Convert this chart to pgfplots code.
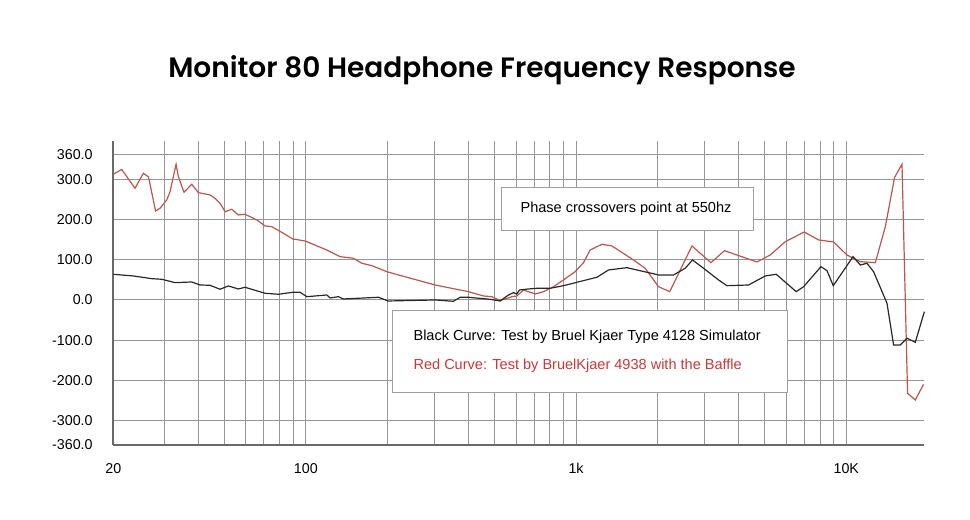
\documentclass[border=0pt]{standalone}
\usepackage{pgfplots}
\pgfplotsset{compat=1.18}
\usepackage{fontspec}
\setmainfont{Liberation Sans}
\newfontfamily\titlefont{Poppins}[BoldFont={Poppins SemiBold}]
\definecolor{gridgray}{RGB}{150,150,150}
\definecolor{axisgray}{RGB}{105,105,105}
\definecolor{redcurve}{RGB}{190,85,75}
\definecolor{blackcurve}{RGB}{40,40,40}
\definecolor{redtext}{RGB}{205,55,55}
\definecolor{boxgray}{RGB}{160,160,160}
\begin{document}
\begin{tikzpicture}
\useasboundingbox (0,0) rectangle (727.5pt,390pt);
\begin{axis}[
  at={(84.98pt,56.25pt)}, anchor=south west, scale only axis,
  width=608.3pt, height=228.1pt,
  xmode=log, xmin=19.4, xmax=19460, ymin=-360, ymax=395,
  axis x line*=bottom, axis y line*=left,
  axis line style={axisgray, line width=1.6pt, -},
  xtick={19.4,100,1000,10000}, xticklabels={20,100,1k,10K},
  minor xtick={30,40,50,60,70,80,90,200,300,400,500,600,700,800,900,2000,3000,4000,5000,6000,7000,8000,9000},
  ytick={-360,-300,-200,-100,0,100,200,300,360},
  yticklabels={-360.0,-300.0,-200.0,-100.0,0.0,100.0,200.0,300.0,360.0},
  major tick length=0pt, minor tick length=0pt,
  xmajorgrids, xminorgrids, ymajorgrids,
  grid style={gridgray, line width=0.75pt},
  minor grid style={gridgray, line width=0.75pt},
  tick label style={font=\fontsize{10.7}{12}\selectfont, text=black},
  yticklabel style={xshift=-12pt},
  xticklabel style={yshift=-10pt},
  clip=false,
]
\addplot[redcurve, line width=0.9pt] coordinates {
(19.4,312) (20.84,324) (23.34,277.3) (25.05,314.6) (26.18,305.4) (27.80,221) (28.88,227.7) (30.58,248.3) (31.45,268.9) (33.11,336.9) (33.77,306.1) (35.43,267.4) (37.84,287.3) (40.03,266.4) (44.22,260.7) (46.15,252.5) (48.16,240.1) (50.26,219.2) (53.21,225.2) (56.29,211) (59.60,212.8) (65.87,198.6) (70.68,183.7) (74.84,182) (82.62,165.6) (89.51,151.5) (99.4,146.5) (119.6,124.1) (134.0,107.5) (150.1,103.5) (161.2,91.1) (175.5,85.2) (199.4,70.3) (220.2,62.1) (301,37.2) (400,20.6) (454.4,9.9) (488.1,8.2) (523.9,-1.7) (578.8,8.2) (603.9,9.9) (639.1,24.8) (666.8,20.6) (706.4,14.9) (757.7,20.6) (825.3,33) (898.5,49.7) (992.9,70.3) (1066,92.6) (1128,124.1) (1247,138.3) (1358,134.1) (1632,99.3) (1803,78.7) (2019,33) (2222,20.6) (2685,134.1) (3156,92.6) (3544,122.4) (4672,94.3) (5233,111.7) (5946,144.7) (6994,168.8) (7898,149) (8975,144) (10060,111.7) (11270,95.1) (12810,92.6) (13950,182) (15100,304.6) (16080,336.9) (16860,-231.6) (18010,-248.3) (19320,-209.3)
};
\addplot[blackcurve, line width=0.9pt] coordinates {
(19.4,63.8) (23.01,59.6) (26.91,52.9) (29.31,51.4) (32.82,43) (37.84,44.7) (40.62,37.2) (44.22,36.5) (48.16,26.6) (51.69,34.8) (56.29,27.3) (59.60,31.5) (70.68,16.6) (79.19,14.2) (89.51,19.1) (95.26,19.1) (100.9,8.2) (119.6,12.4) (123,5) (132,8.2) (137.8,2.5) (185.7,6.7) (201.7,-2.5) (301,0) (351.9,-3.2) (372.6,6.7) (400,6.7) (481.1,1.7) (523.9,-2.5) (562.3,12.4) (586.8,18.1) (603.9,14.9) (617.5,24.8) (666.8,27.3) (716,29) (802.2,29) (898.5,35.5) (1007,43.9) (1195,56.4) (1319,74.5) (1543,80.2) (1830,68.8) (2019,62.1) (2295,62.1) (2535,78.7) (2698,99.3) (2964,78.7) (3368,49.7) (3618,35.5) (4349,37.2) (5014,59.6) (5507,63.8) (6529,20.6) (6950,33) (8062,82.7) (8484,72.7) (8953,35.5) (10590,107.5) (11270,86.9) (11930,91.1) (12620,70.3) (14150,-8.2) (14970,-111.7) (15850,-111.7) (16780,-95.1) (18010,-105) (19460,-29)
};
\end{axis}
\begin{scope}[yshift=390pt, x=0.75pt, y=-0.75pt]
\node[font=\titlefont\bfseries\fontsize{21}{25}\selectfont] at (482,70) {Monitor 80 Headphone Frequency Response};
\draw[boxgray, fill=white, line width=0.6pt] (501.7,187) rectangle (753,230);
\node[font=\fontsize{10.9}{12}\selectfont] at (626,208.5) {Phase crossovers point at 550hz};
\draw[boxgray, fill=white, line width=0.6pt] (392.7,310.7) rectangle (787.3,392.3);
\node[font=\fontsize{10.9}{12}\selectfont, anchor=west, inner sep=0pt] at (413.3,336.7) {Black Curve: Test by Bruel Kjaer Type 4128 Simulator};
\node[font=\fontsize{10.9}{12}\selectfont, anchor=west, inner sep=0pt, text=redtext] at (413.3,366) {Red Curve: Test by BruelKjaer 4938 with the Baffle};
\end{scope}
\end{tikzpicture}
\end{document}
